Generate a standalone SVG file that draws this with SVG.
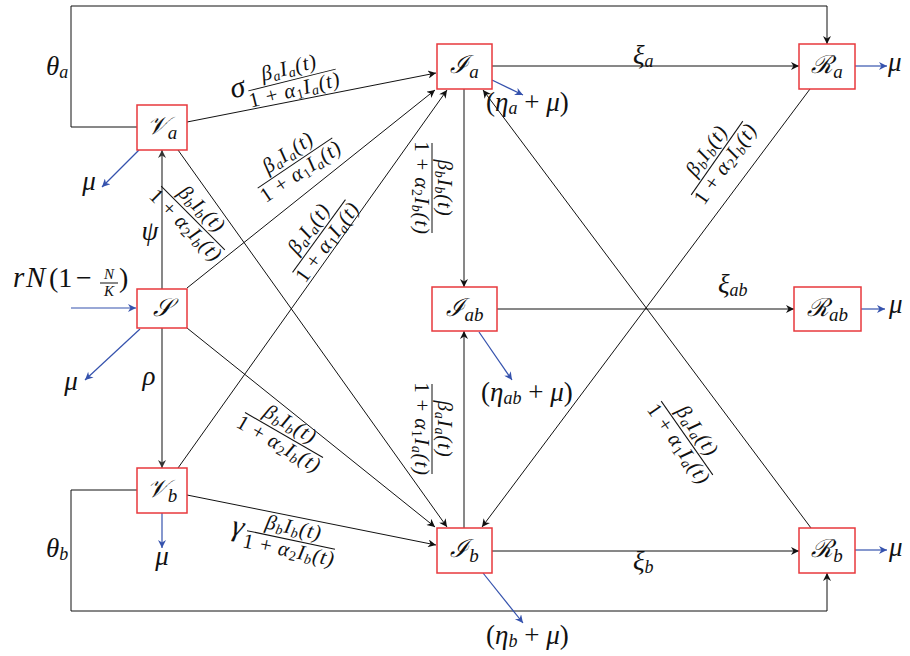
<svg xmlns="http://www.w3.org/2000/svg" width="910" height="656" viewBox="0 0 910 656">
<style>
.m{font-family:"Liberation Serif","Times New Roman",serif;font-style:italic;fill:#111}
.u{font-style:normal}
.nb{fill:#fff;stroke:#e8383d;stroke-width:1.5}
.nl{font-family:"Liberation Serif","Times New Roman",serif;font-style:italic;font-size:25px;fill:#111;text-anchor:middle}
.ns{font-size:19px}
.ln{fill:none;stroke:#111;stroke-width:1}
.gr{fill:none;stroke:#555;stroke-width:1.4}
.bl{fill:none;stroke:#3552ad;stroke-width:1.2}
.fr text{font-family:"Liberation Serif","Times New Roman",serif;font-style:italic;font-size:21px;fill:#111;text-anchor:middle;letter-spacing:0.8px}
.fr line{stroke:#111;stroke-width:1}
.s{font-size:14px}
.g{font-size:27px}
.gs{font-size:18px}
</style>
<defs>
<marker id="ak" viewBox="0 0 10 10" refX="10" refY="5" markerWidth="11" markerHeight="8" markerUnits="userSpaceOnUse" orient="auto"><path d="M0,0 L10,5 L0,10 L3,5 Z" fill="#111"/></marker>
<marker id="ag" viewBox="0 0 10 10" refX="10" refY="5" markerWidth="11" markerHeight="8" markerUnits="userSpaceOnUse" orient="auto"><path d="M0,0 L10,5 L0,10 L3,5 Z" fill="#333"/></marker>
<marker id="ab" viewBox="0 0 10 10" refX="10" refY="5" markerWidth="11" markerHeight="8" markerUnits="userSpaceOnUse" orient="auto"><path d="M0,0 L10,5 L0,10 L3,5 Z" fill="#3552ad"/></marker>
</defs>

<g id="connectors">
<path class="ln" d="M137,127 H71 V6 H827 V44" marker-end="url(#ak)"/>
<path class="ln" d="M137,490 H71 V611 H827 V573" marker-end="url(#ak)"/>
<path class="ln" d="M187,122 L436,73" marker-end="url(#ak)"/>
<path class="ln" d="M187,288 L435,90" marker-end="url(#ak)"/>
<path class="ln" d="M178,468 L447,90" marker-end="url(#ak)"/>
<path class="ln" d="M178,150 L447,527" marker-end="url(#ak)"/>
<path class="ln" d="M187,328 L435,527" marker-end="url(#ak)"/>
<path class="ln" d="M187,495 L436,545" marker-end="url(#ak)"/>
<path class="ln" d="M492,66 L799,66" marker-end="url(#ak)"/>
<path class="ln" d="M497,309 L794,309" marker-end="url(#ak)"/>
<path class="ln" d="M492,551 L799,551" marker-end="url(#ak)"/>
<path class="ln" d="M464,89 L464,287" marker-end="url(#ak)"/>
<path class="ln" d="M464,528 L464,331" marker-end="url(#ak)"/>
<path class="ln" d="M811,528 L483,90" marker-end="url(#ak)"/>
<path class="ln" d="M810,89 L482,527" marker-end="url(#ak)"/>
<path class="gr" d="M162,289 L162,150" marker-end="url(#ag)"/>
<path class="gr" d="M162,328 L162,468" marker-end="url(#ag)"/>
<path class="bl" d="M855,66 L887,66" marker-end="url(#ab)"/>
<path class="bl" d="M861,309 L885,309" marker-end="url(#ab)"/>
<path class="bl" d="M855,550 L887,550" marker-end="url(#ab)"/>
<path class="bl" d="M492,80 L523,95" marker-end="url(#ab)"/>
<path class="bl" d="M479,332 L512,380" marker-end="url(#ab)"/>
<path class="bl" d="M483,573 L523,623" marker-end="url(#ab)"/>
<path class="bl" d="M71,308 L136,308" marker-end="url(#ab)"/>
<path class="bl" d="M140,329 L85,380" marker-end="url(#ab)"/>
<path class="bl" d="M139,150 L102,187" marker-end="url(#ab)"/>
<path class="bl" d="M162,513 L162,548" marker-end="url(#ab)"/>
</g>

<g id="Va"><rect class="nb" x="137" y="105" width="50" height="45"/><text class="nl" x="162" y="134">𝒱<tspan class="ns" dy="5">a</tspan></text></g>
<g id="S"><rect class="nb" x="137" y="289" width="50" height="39"/><text class="nl" x="162" y="316">𝒮</text></g>
<g id="Vb"><rect class="nb" x="137" y="468" width="50" height="45"/><text class="nl" x="162" y="497">𝒱<tspan class="ns" dy="5">b</tspan></text></g>
<g id="Ia"><rect class="nb" x="437" y="44" width="55" height="45"/><text class="nl" x="464.5" y="73">ℐ<tspan class="ns" dy="5">a</tspan></text></g>
<g id="Ra"><rect class="nb" x="799" y="44" width="56" height="45"/><text class="nl" x="827" y="73">ℛ<tspan class="ns" dy="5">a</tspan></text></g>
<g id="Iab"><rect class="nb" x="432" y="287" width="65" height="44"/><text class="nl" x="464.5" y="316">ℐ<tspan class="ns" dy="5">ab</tspan></text></g>
<g id="Rab"><rect class="nb" x="794" y="287" width="67" height="44"/><text class="nl" x="827.5" y="316">ℛ<tspan class="ns" dy="5">ab</tspan></text></g>
<g id="Ib"><rect class="nb" x="437" y="528" width="55" height="45"/><text class="nl" x="464.5" y="557">ℐ<tspan class="ns" dy="5">b</tspan></text></g>
<g id="Rb"><rect class="nb" x="799" y="528" width="56" height="45"/><text class="nl" x="827" y="557">ℛ<tspan class="ns" dy="5">b</tspan></text></g>

<g id="labels">
<text class="m g" x="46" y="75">θ<tspan class="gs" dy="3">a</tspan></text>
<text class="m g" x="46" y="557">θ<tspan class="gs" dy="3">b</tspan></text>
<text class="m g" x="150" y="240" text-anchor="middle">ψ</text>
<text class="m g" x="149" y="385" text-anchor="middle">ρ</text>
<text class="m g" x="89" y="190" text-anchor="middle">μ</text>
<text class="m g" x="71" y="390" text-anchor="middle">μ</text>
<text class="m g" x="162" y="565" text-anchor="middle">μ</text>
<text class="m g" x="888" y="71">μ</text>
<text class="m g" x="889" y="313">μ</text>
<text class="m g" x="889" y="556">μ</text>
<text class="m g" x="633" y="64">ξ<tspan class="gs" dy="3">a</tspan></text>
<text class="m g" x="718" y="293">ξ<tspan class="gs" dy="3">ab</tspan></text>
<text class="m g" x="633" y="570">ξ<tspan class="gs" dy="3">b</tspan></text>
<text class="m g" x="486" y="111"><tspan class="u">(</tspan>η<tspan class="gs" dy="3">a</tspan><tspan class="u" dy="-3"> + </tspan>μ<tspan class="u">)</tspan></text>
<text class="m g" x="481" y="401"><tspan class="u">(</tspan>η<tspan class="gs" dy="3">ab</tspan><tspan class="u" dy="-3"> + </tspan>μ<tspan class="u">)</tspan></text>
<text class="m g" x="486" y="644"><tspan class="u">(</tspan>η<tspan class="gs" dy="3">b</tspan><tspan class="u" dy="-3"> + </tspan>μ<tspan class="u">)</tspan></text>
<text class="m" font-size="29" x="13" y="287">r</text>
<text class="m" font-size="29" x="26" y="287">N</text>
<text class="m u" font-size="28" x="49" y="287">(1</text>
<text class="m u" font-size="28" x="76" y="287">−</text>
<text class="m" font-size="15" x="109" y="279" text-anchor="middle">N</text>
<line x1="100" y1="283" x2="118" y2="283" stroke="#111" stroke-width="1"/>
<text class="m" font-size="15" x="109" y="296" text-anchor="middle">K</text>
<text class="m u" font-size="28" x="119" y="287">)</text>

<text class="m" font-size="30" x="238" y="97" text-anchor="middle" transform="rotate(-14 238 90)">σ</text>
<g class="fr" transform="translate(292,80) rotate(-14)">
<text y="-6">β<tspan class="s" dy="3">a</tspan><tspan dy="-3">I</tspan><tspan class="s" dy="3">a</tspan><tspan dy="-3">(t)</tspan></text>
<line x1="-45" x2="45" y1="0" y2="0"/>
<text y="17"><tspan class="u">1 + </tspan>α<tspan class="s u" dy="3">1</tspan><tspan dy="-3">I</tspan><tspan class="s" dy="3">a</tspan><tspan dy="-3">(t)</tspan></text>
</g>
<g class="fr" transform="translate(295,163) rotate(-34)">
<text y="-6">β<tspan class="s" dy="3">a</tspan><tspan dy="-3">I</tspan><tspan class="s" dy="3">a</tspan><tspan dy="-3">(t)</tspan></text>
<line x1="-45" x2="45" y1="0" y2="0"/>
<text y="17"><tspan class="u">1 + </tspan>α<tspan class="s u" dy="3">1</tspan><tspan dy="-3">I</tspan><tspan class="s" dy="3">a</tspan><tspan dy="-3">(t)</tspan></text>
</g>
<g class="fr" transform="translate(319,236) rotate(-54)">
<text y="-6">β<tspan class="s" dy="3">a</tspan><tspan dy="-3">I</tspan><tspan class="s" dy="3">a</tspan><tspan dy="-3">(t)</tspan></text>
<line x1="-45" x2="45" y1="0" y2="0"/>
<text y="17"><tspan class="u">1 + </tspan>α<tspan class="s u" dy="3">1</tspan><tspan dy="-3">I</tspan><tspan class="s" dy="3">a</tspan><tspan dy="-3">(t)</tspan></text>
</g>
<g class="fr" transform="translate(193,218) rotate(45)">
<text y="-6">β<tspan class="s" dy="3">b</tspan><tspan dy="-3">I</tspan><tspan class="s" dy="3">b</tspan><tspan dy="-3">(t)</tspan></text>
<line x1="-45" x2="45" y1="0" y2="0"/>
<text y="17"><tspan class="u">1 + </tspan>α<tspan class="s u" dy="3">2</tspan><tspan dy="-3">I</tspan><tspan class="s" dy="3">b</tspan><tspan dy="-3">(t)</tspan></text>
</g>
<g class="fr" transform="translate(284,435) rotate(30)">
<text y="-6">β<tspan class="s" dy="3">b</tspan><tspan dy="-3">I</tspan><tspan class="s" dy="3">b</tspan><tspan dy="-3">(t)</tspan></text>
<line x1="-45" x2="45" y1="0" y2="0"/>
<text y="17"><tspan class="u">1 + </tspan>α<tspan class="s u" dy="3">2</tspan><tspan dy="-3">I</tspan><tspan class="s" dy="3">b</tspan><tspan dy="-3">(t)</tspan></text>
</g>
<text class="m" font-size="30" x="238" y="536" text-anchor="middle" transform="rotate(12 238 528)">γ</text>
<g class="fr" transform="translate(291,540) rotate(12)">
<text y="-6">β<tspan class="s" dy="3">b</tspan><tspan dy="-3">I</tspan><tspan class="s" dy="3">b</tspan><tspan dy="-3">(t)</tspan></text>
<line x1="-45" x2="45" y1="0" y2="0"/>
<text y="17"><tspan class="u">1 + </tspan>α<tspan class="s u" dy="3">2</tspan><tspan dy="-3">I</tspan><tspan class="s" dy="3">b</tspan><tspan dy="-3">(t)</tspan></text>
</g>
<g class="fr" transform="translate(432,188) rotate(90)">
<text y="-6">β<tspan class="s" dy="3">b</tspan><tspan dy="-3">I</tspan><tspan class="s" dy="3">b</tspan><tspan dy="-3">(t)</tspan></text>
<line x1="-45" x2="45" y1="0" y2="0"/>
<text y="17"><tspan class="u">1 + </tspan>α<tspan class="s u" dy="3">2</tspan><tspan dy="-3">I</tspan><tspan class="s" dy="3">b</tspan><tspan dy="-3">(t)</tspan></text>
</g>
<g class="fr" transform="translate(432,429) rotate(90)">
<text y="-6">β<tspan class="s" dy="3">a</tspan><tspan dy="-3">I</tspan><tspan class="s" dy="3">a</tspan><tspan dy="-3">(t)</tspan></text>
<line x1="-45" x2="45" y1="0" y2="0"/>
<text y="17"><tspan class="u">1 + </tspan>α<tspan class="s u" dy="3">1</tspan><tspan dy="-3">I</tspan><tspan class="s" dy="3">a</tspan><tspan dy="-3">(t)</tspan></text>
</g>
<g class="fr" transform="translate(717,158) rotate(-55)">
<text y="-6">β<tspan class="s" dy="3">b</tspan><tspan dy="-3">I</tspan><tspan class="s" dy="3">b</tspan><tspan dy="-3">(t)</tspan></text>
<line x1="-45" x2="45" y1="0" y2="0"/>
<text y="17"><tspan class="u">1 + </tspan>α<tspan class="s u" dy="3">2</tspan><tspan dy="-3">I</tspan><tspan class="s" dy="3">b</tspan><tspan dy="-3">(t)</tspan></text>
</g>
<g class="fr" transform="translate(687,438) rotate(55)">
<text y="-6">β<tspan class="s" dy="3">a</tspan><tspan dy="-3">I</tspan><tspan class="s" dy="3">a</tspan><tspan dy="-3">(t)</tspan></text>
<line x1="-45" x2="45" y1="0" y2="0"/>
<text y="17"><tspan class="u">1 + </tspan>α<tspan class="s u" dy="3">1</tspan><tspan dy="-3">I</tspan><tspan class="s" dy="3">a</tspan><tspan dy="-3">(t)</tspan></text>
</g>
</g>
</svg>
